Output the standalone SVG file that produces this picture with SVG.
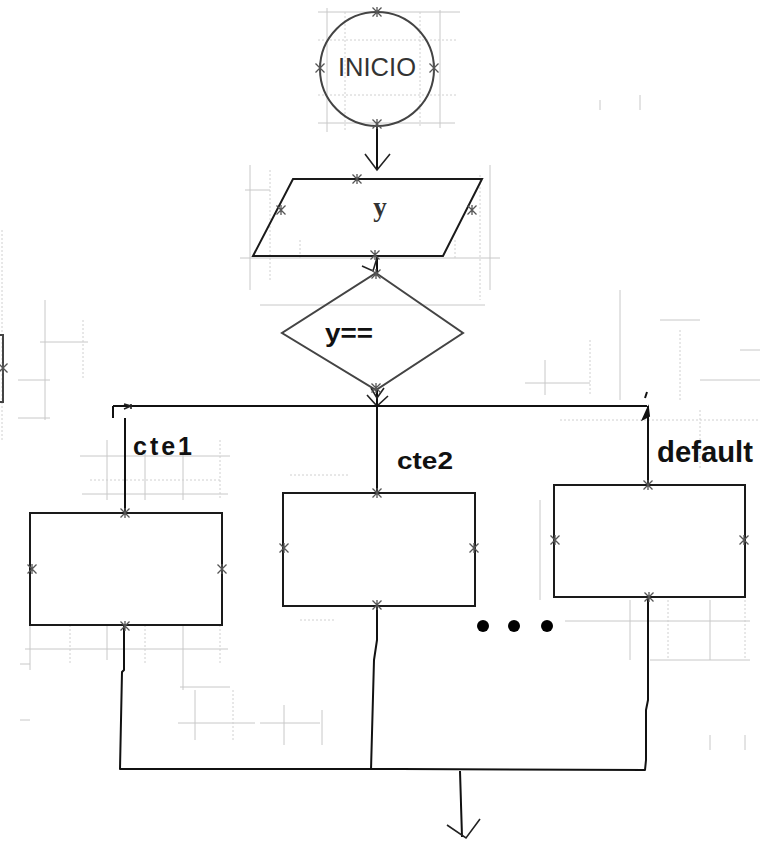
<svg xmlns="http://www.w3.org/2000/svg" width="760" height="841" viewBox="0 0 760 841">
<defs>
<style>
.shape{fill:none;stroke:#1a1a1a;stroke-width:2}
.shape2{fill:none;stroke:#444;stroke-width:2}
.conn{fill:none;stroke:#111;stroke-width:2;stroke-linejoin:round}
.head{fill:none;stroke:#222;stroke-width:1.6}
.grid{fill:none;stroke:#c8c8c8;stroke-width:1}
.gridd{fill:none;stroke:#d0d0d0;stroke-width:1;stroke-dasharray:2 2}
.lbl{font-family:"Liberation Sans",Arial,sans-serif;font-weight:bold;fill:#111}
</style>
<g id="xm"><path d="M-4.5,-4.5 L4.5,4.5 M-4.5,4.5 L4.5,-4.5 M0,-5 L0,5" stroke="#555" stroke-width="1.3" fill="none"/></g>
</defs>
<rect width="760" height="841" fill="#fff"/>
<g id="background-grid">
<path class="grid" d="M318,12 H460 M327,8 V132 M440,10 V128 M318,123 H455"/>
<path class="gridd" d="M345,12 V130 M420,12 V128 M318,40 H458 M318,95 H458"/>
<path class="grid" d="M250,165 V290 M490,165 V290 M245,190 H270 M260,305 H485 M240,258 H500"/>
<path class="gridd" d="M270,170 V280 M480,175 V300 M300,240 V260 M455,240 V260"/>
<path class="grid" d="M45,300 V420 M40,342 H88 M18,380 H50 M18,418 H50"/>
<path class="gridd" d="M83,320 V380 M2,230 V440"/>
<path class="grid" d="M525,383 H590 M545,360 V395 M740,350 H760 M620,290 V400 M700,380 H760 M660,320 H700 M600,100 V110 M640,95 V110"/>
<path class="gridd" d="M680,330 V400 M590,340 V395 M560,420 H760 M700,410 V470"/>
<path class="grid" d="M80,456 H230 M107,440 V500 M145,450 V500 M183,450 V500 M82,494 H228"/>
<path class="gridd" d="M220,440 V500 M90,480 H220"/>
<path class="grid" d="M25,649 H228 M30,625 V670 M107,625 V660 M183,625 V690 M180,687 H230 M195,690 V740 M178,723 H255 M260,723 H320 M284,705 V745 M322,710 V745"/>
<path class="gridd" d="M70,625 V665 M145,625 V665 M220,625 V665 M233,690 V740"/>
<path class="grid" d="M565,621 H750 M630,600 V660 M710,600 V660 M650,660 H750 M710,735 V750 M745,735 V750"/>
<path class="gridd" d="M668,600 V660 M745,600 V660 M300,620 H335 M290,475 H350"/>
<path class="grid" d="M20,720 H30 M20,664 H30 M540,500 V600"/>
</g>
<g id="connectors">
<path class="conn" d="M377,126 V169"/>
<path class="head" d="M365,154 L377,170 L390,154"/>
<path class="conn" d="M377,256 V272"/>
<path class="head" d="M362,266 L373,271 L377,258"/>
<path class="conn" d="M377,390 V405"/>
<path class="head" d="M367,395 L377,406 L388,396 M371,388 L377,398 L384,388"/>
<path class="conn" d="M113,406 H647"/>
<path class="conn" d="M113,406 V418"/>
<path class="head" d="M124,404 L131,406 L124,409 M131,404 V409"/>
<path class="conn" d="M125,418 V513"/>
<path class="conn" d="M377,406 V493"/>
<path class="conn" d="M648,406 V485"/>
<path d="M648,408 L643,419 L649,416 Z M647,392 L645,398" stroke="#111" stroke-width="2" fill="#111"/>
<path class="conn" d="M124,626 V670 L122,672 L120,769 H400 L645,770 L646,760 V710 L648,700 V597"/>
<path class="conn" d="M377,606 V640 L374,660 L371,770"/>
<path class="conn" d="M460,771 L462,837"/>
<path class="head" d="M447,825 L466,838 L480,819"/>
</g>
<g id="node-inicio">
<circle class="shape2" cx="377" cy="69" r="57"/>
<text x="377" y="76" font-family="Liberation Sans,Arial,sans-serif" font-size="25" fill="#333" text-anchor="middle" textLength="78" lengthAdjust="spacingAndGlyphs">INICIO</text>
<use href="#xm" x="377" y="12"/><use href="#xm" x="320" y="68"/><use href="#xm" x="434" y="68"/><use href="#xm" x="377" y="124"/>
</g>
<g id="node-input-y">
<polygon class="shape" points="293,179 482,179 443,256 253,256"/>
<text x="380" y="216" font-family="Liberation Serif,Times New Roman,serif" font-size="27" font-weight="bold" fill="#333" text-anchor="middle">y</text>
<use href="#xm" x="357" y="179"/><use href="#xm" x="281" y="210"/><use href="#xm" x="472" y="210"/><use href="#xm" x="375" y="255"/>
</g>
<g id="node-decision">
<polygon class="shape2" points="376,273 463,333 376,390 282,333"/>
<text class="lbl" x="325" y="342" font-size="26" textLength="48" lengthAdjust="spacingAndGlyphs">y==</text>
<use href="#xm" x="376" y="274"/><use href="#xm" x="376" y="388"/>
</g>
<g id="labels">
<text class="lbl" x="133" y="455" font-size="25" textLength="59" lengthAdjust="spacing">cte1</text>
<text class="lbl" x="397" y="469" font-size="24" textLength="56" lengthAdjust="spacingAndGlyphs">cte2</text>
<text class="lbl" x="657" y="462" font-size="29" textLength="96" lengthAdjust="spacingAndGlyphs">default</text>
</g>
<g id="node-box1">
<rect class="shape" x="30" y="513" width="192" height="112"/>
<use href="#xm" x="125" y="513"/><use href="#xm" x="32" y="569"/><use href="#xm" x="222" y="569"/><use href="#xm" x="125" y="626"/>
</g>
<g id="node-box2">
<rect class="shape" x="283" y="493" width="192" height="113"/>
<use href="#xm" x="377" y="493"/><use href="#xm" x="284" y="548"/><use href="#xm" x="474" y="548"/><use href="#xm" x="377" y="605"/>
</g>
<g id="node-box3">
<rect class="shape" x="554" y="485" width="191" height="112"/>
<use href="#xm" x="648" y="485"/><use href="#xm" x="555" y="540"/><use href="#xm" x="744" y="540"/><use href="#xm" x="649" y="597"/>
</g>
<g id="node-partial-left">
<path class="shape2" d="M-2,335 H3 V402 H-2"/>
<use href="#xm" x="3" y="368"/>
</g>
<g id="ellipsis">
<circle cx="483" cy="626" r="6" fill="#000"/>
<circle cx="514" cy="626" r="6" fill="#000"/>
<circle cx="547" cy="626" r="6" fill="#000"/>
</g>
</svg>
